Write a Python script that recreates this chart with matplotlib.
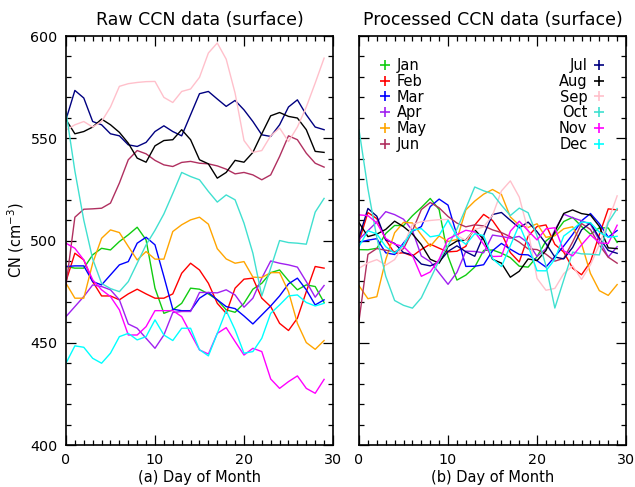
import numpy as np
import matplotlib
matplotlib.use("Agg")
import matplotlib.pyplot as plt
from matplotlib.lines import Line2D
from matplotlib.ticker import MultipleLocator

# day of month (x axis)
days = np.arange(30)

# raw surface CCN, one series per month
jan = [487.3, 486.5, 486.5, 493.0, 496.2, 495.4, 499.5, 502.8, 506.5, 500.3,
       476.7, 464.4, 466.1, 469.3, 476.7, 476.2, 473.9, 471.0, 466.1, 464.9,
       469.3, 476.2, 479.1, 484.3, 485.6, 480.4, 475.9, 478.3, 477.5, 469.7]
feb = [480.0, 493.8, 490.5, 479.9, 472.9, 472.9, 471.0, 473.9, 476.2, 473.9,
       471.8, 471.8, 473.9, 484.0, 488.9, 485.6, 479.1, 469.3, 464.4, 476.7,
       481.1, 481.6, 471.8, 467.7, 459.5, 456.0, 462.0, 475.0, 487.3, 486.5]
mar = [487.3, 487.6, 487.6, 479.9, 478.3, 483.2, 488.1, 489.7, 498.7, 501.6,
       497.9, 482.4, 466.4, 465.7, 465.7, 471.8, 474.6, 471.0, 467.7, 466.7,
       463.1, 459.2, 463.6, 468.0, 472.9, 478.8, 481.6, 475.9, 468.5, 471.0]
apr = [462.8, 467.7, 472.6, 478.3, 477.5, 475.9, 471.0, 459.2, 457.1, 452.2,
       447.3, 453.8, 464.8, 465.3, 465.3, 474.6, 474.6, 474.4, 475.9, 473.4,
       467.4, 471.8, 481.6, 490.0, 488.9, 488.1, 487.0, 479.9, 472.3, 478.0]
may = [479.1, 471.8, 471.8, 488.9, 501.1, 505.2, 503.9, 497.1, 490.5, 494.6,
       490.9, 490.9, 504.4, 507.7, 510.1, 511.4, 508.0, 496.0, 491.0, 488.9,
       489.7, 482.1, 481.9, 484.3, 484.3, 475.0, 459.5, 450.1, 446.8, 451.1]
jun = [478.0, 511.4, 515.3, 515.5, 515.8, 518.3, 528.1, 539.5, 544.0, 542.4,
       539.2, 537.0, 536.2, 538.2, 538.7, 537.8, 537.5, 536.5, 534.9, 532.6,
       533.3, 532.1, 529.7, 532.1, 541.1, 551.2, 549.3, 542.7, 537.8, 535.9]
jul = [559.1, 573.4, 569.7, 558.2, 556.6, 552.2, 551.2, 546.8, 546.0, 548.0,
       553.3, 556.1, 553.3, 551.2, 561.5, 571.8, 572.9, 569.2, 565.6, 568.5,
       563.9, 558.2, 551.7, 550.9, 556.6, 565.3, 568.8, 561.5, 555.5, 554.2]
aug = [559.1, 552.2, 553.3, 555.5, 559.4, 556.6, 552.9, 547.6, 540.3, 538.3,
       546.3, 548.9, 549.3, 554.2, 549.3, 539.5, 537.5, 530.5, 533.3, 539.2,
       538.3, 543.1, 552.2, 561.0, 562.6, 560.7, 559.9, 554.2, 543.6, 543.1]
sep = [554.0, 556.6, 558.2, 555.5, 558.2, 565.3, 575.4, 576.7, 577.3, 577.7,
       577.8, 570.0, 567.5, 572.9, 574.1, 579.8, 591.7, 596.6, 588.7, 572.1,
       548.9, 543.1, 544.0, 551.2, 555.0, 548.4, 555.5, 565.3, 577.0, 589.2]
oct_ = [563.0, 534.0, 510.0, 491.0, 479.0, 476.5, 475.0, 479.9, 488.9, 497.9,
        505.0, 513.0, 523.0, 533.3, 531.3, 529.7, 524.0, 518.8, 522.3, 519.9,
        508.5, 493.8, 472.9, 486.5, 500.0, 499.0, 498.7, 498.2, 513.9, 520.6]
nov = [498.7, 496.2, 490.5, 480.8, 475.9, 472.6, 466.1, 453.8, 453.8, 457.9,
       465.7, 465.7, 465.7, 462.8, 454.6, 446.5, 444.5, 454.6, 457.4, 450.6,
       444.0, 447.3, 445.7, 432.3, 427.7, 431.0, 433.8, 427.7, 425.3, 432.1]
dec = [440.0, 448.5, 447.8, 442.4, 440.0, 444.9, 453.0, 454.6, 451.4, 453.0,
       461.2, 453.8, 451.1, 457.1, 457.1, 446.6, 443.6, 454.6, 465.7, 456.3,
       444.9, 445.7, 452.2, 464.4, 468.5, 472.9, 473.4, 469.7, 468.0, 469.3]

months = ["Jan", "Feb", "Mar", "Apr", "May", "Jun",
          "Jul", "Aug", "Sep", "Oct", "Nov", "Dec"]
raw = [jan, feb, mar, apr, may, jun, jul, aug, sep, oct_, nov, dec]
colors = ["#11cc11", "#ff0000", "#0000ff", "#a020f0", "#ffa500", "#b03060",
          "#000080", "#000000", "#ffc0cb", "#40e0d0", "#ff00ff", "#00ffff"]

# processed = raw with its linear trend removed, re-centred on 500
processed = []
for series in raw:
    y = np.array(series)
    fit = np.polyval(np.polyfit(days, y, 1), days)
    processed.append(y - fit + 500.0)

plt.rcParams["font.family"] = "DejaVu Sans"

fig = plt.figure(figsize=(6.35, 4.87), dpi=100)
ax1 = fig.add_axes([0.1039, 0.0862, 0.4205, 0.8398])
ax2 = fig.add_axes([0.5654, 0.0862, 0.4205, 0.8398])

for ax, data in ((ax1, raw), (ax2, processed)):
    for y, c in zip(data, colors):
        ax.plot(days, y, color=c, linewidth=1.0)
    ax.set_xlim(0, 30)
    ax.set_ylim(400, 600)
    ax.xaxis.set_major_locator(MultipleLocator(10))
    ax.xaxis.set_minor_locator(MultipleLocator(1))
    ax.yaxis.set_major_locator(MultipleLocator(50))
    ax.yaxis.set_minor_locator(MultipleLocator(10))
    ax.tick_params(which="both", direction="in", top=True, right=True,
                   labelsize=10.3, colors="black", width=0.9)
    ax.tick_params(which="major", length=7, pad=6)
    ax.tick_params(which="minor", length=3.5)
    for sp in ax.spines.values():
        sp.set_linewidth(1.2)

ax1.set_title("Raw CCN data (surface)", fontsize=12.5, pad=8)
ax2.set_title("Processed CCN data (surface)", fontsize=12.5, pad=8)
ax1.set_xlabel("(a) Day of Month", fontsize=10.5, labelpad=2)
ax2.set_xlabel("(b) Day of Month", fontsize=10.5, labelpad=2)
ax1.set_ylabel("CN (cm$^{-3}$)", fontsize=10.5, labelpad=3)
ax2.tick_params(labelleft=False)

handles = [Line2D([], [], linestyle="none", marker="+", markersize=7,
                  markeredgewidth=1.2, color=c) for c in colors]
leg_kw = dict(frameon=False, fontsize=10.5, borderpad=0, labelspacing=0.05,
              handlelength=0.8, handletextpad=0.4, borderaxespad=0)
leg1 = ax2.legend(handles[:6], months[:6], loc="upper left",
                  bbox_to_anchor=(0.077, 0.946), **leg_kw)
ax2.add_artist(leg1)
ax2.legend(handles[6:], months[6:], loc="upper right", markerfirst=False,
           bbox_to_anchor=(0.921, 0.946), **leg_kw)

fig.savefig("out.png", dpi=100)
